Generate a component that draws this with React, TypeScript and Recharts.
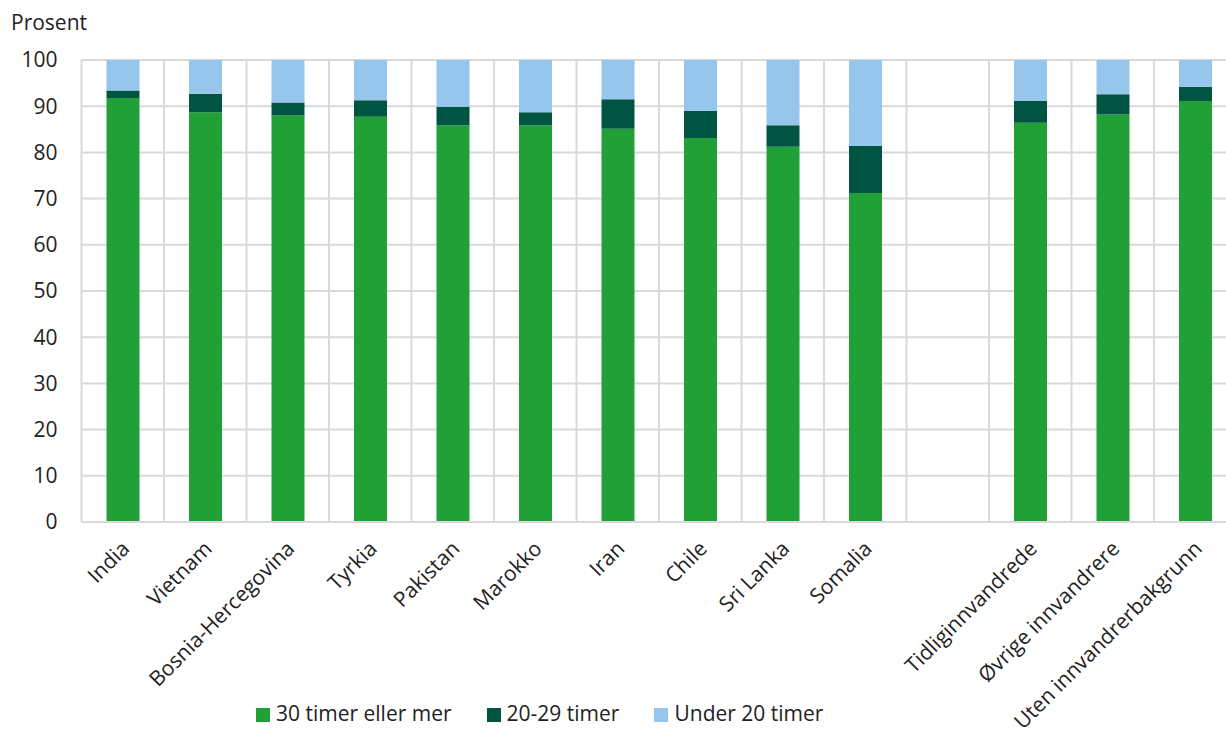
import React from 'react';
import { BarChart, Bar, XAxis, YAxis, CartesianGrid, Legend } from 'recharts';

const categories = ['India', 'Vietnam', 'Bosnia-Hercegovina', 'Tyrkia', 'Pakistan', 'Marokko', 'Iran', 'Chile', 'Sri Lanka', 'Somalia', '', 'Tidliginnvandrede', 'Øvrige innvandrere', 'Uten innvandrerbakgrunn'];
const over30: (number | null)[] = [91.8, 88.7, 88.0, 87.7, 85.9, 85.9, 85.1, 83.1, 81.2, 71.2, null, 86.4, 88.2, 91.1];
const from20to29: (number | null)[] = [1.6, 4.0, 2.8, 3.6, 4.0, 2.8, 6.4, 5.9, 4.7, 10.2, null, 4.7, 4.4, 3.1];
const under20: (number | null)[] = [6.6, 7.3, 9.2, 8.7, 10.1, 11.3, 8.5, 11.0, 14.1, 18.6, null, 8.9, 7.4, 5.8];
const yTicks = [0, 10, 20, 30, 40, 50, 60, 70, 80, 90, 100];

const seriesNames = ['30 timer eller mer', '20-29 timer', 'Under 20 timer'];
const seriesKeys = ['a', 'b', 'c'];
const seriesColors = ['#21A038', '#005442', '#96C6EC'];

const data = categories.map((name, i) => ({
  name,
  a: over30[i],
  b: from20to29[i],
  c: under20[i],
}));

const FONT = '"Open Sans", sans-serif';
const FS = 21;

const XTick = (props: any) => {
  const { x, y, payload } = props;
  const tx = x + 8;
  const ty = y + 20;
  return (
    <text
      x={tx}
      y={ty}
      transform={`rotate(-45, ${tx}, ${ty})`}
      textAnchor="end"
      fontFamily={FONT}
      fontSize={FS}
      fill="#222"
    >
      {payload.value}
    </text>
  );
};

const LegendContent = () => (
  <div style={{ display: 'flex', fontFamily: FONT, fontSize: FS, color: '#222', whiteSpace: 'nowrap' }}>
    {seriesNames.map((n, i) => (
      <div key={n} style={{ display: 'flex', alignItems: 'center', marginRight: 35 }}>
        <span style={{ display: 'inline-block', width: 14, height: 14, background: seriesColors[i], marginRight: 6, marginTop: 3 }} />
        <span>{n}</span>
      </div>
    ))}
  </div>
);

export default function App() {
  return (
    <div style={{ position: 'fixed', left: 0, top: 0, width: 1226, height: 735, overflow: 'hidden', background: '#fff' }}>
      <BarChart
        width={1240}
        height={735}
        data={data}
        margin={{ top: 60, right: 3.5, bottom: 0, left: 0 }}
        barSize={33}
      >
        <CartesianGrid
          stroke="#d9d9d9"
          strokeWidth={2}
          verticalCoordinatesGenerator={({ offset }: any) =>
            categories.map((_, i) => offset.left + (i * offset.width) / categories.length).concat([offset.left + offset.width])
          }
        />
        <XAxis
          dataKey="name"
          interval={0}
          height={213}
          tickLine={false}
          axisLine={{ stroke: '#d9d9d9', strokeWidth: 2 }}
          tick={<XTick />}
        />
        <YAxis
          domain={[0, 100]}
          ticks={yTicks}
          width={81.5}
          axisLine={false}
          tickLine={false}
          tickSize={0}
          tickMargin={24}
          tick={{ fontFamily: FONT, fontSize: FS, fill: '#222' }}
          label={() => (
            <text x={11} y={30} fontFamily={FONT} fontSize={FS} fill="#222">
              Prosent
            </text>
          )}
        />
        <Legend
          verticalAlign="middle"
          layout="horizontal"
          align="center"
          wrapperStyle={{ top: 699, left: 256, width: 'auto' }}
          content={<LegendContent />}
        />
        {seriesKeys.map((k, i) => (
          <Bar key={k} dataKey={k} name={seriesNames[i]} stackId="s" fill={seriesColors[i]} isAnimationActive={false} />
        ))}
      </BarChart>
    </div>
  );
}
